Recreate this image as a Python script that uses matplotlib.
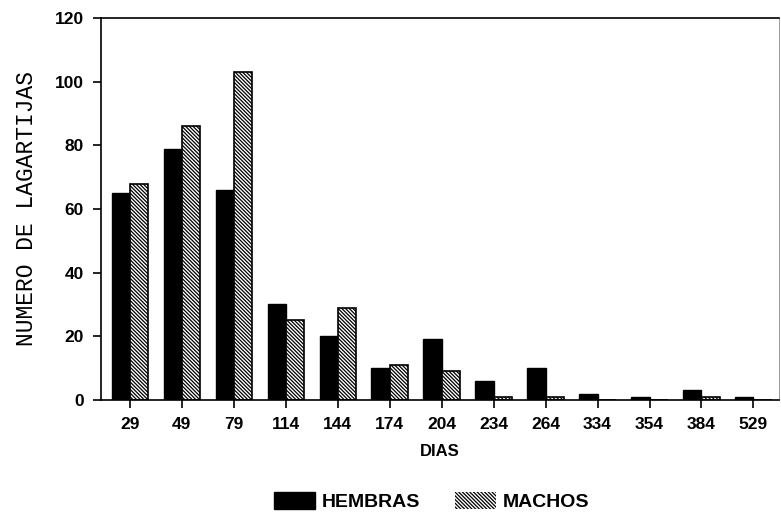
import matplotlib
matplotlib.use("Agg")
import matplotlib.pyplot as plt
import numpy as np
from matplotlib.patches import Patch

categories = ["29", "49", "79", "114", "144", "174", "204", "234", "264", "334", "354", "384", "529"]
hembras = [65, 79, 66, 30, 20, 10, 19, 6, 10, 2, 1, 3, 1]
machos = [68, 86, 103, 25, 29, 11, 9, 1, 1, 0, 0, 1, 0]

plt.rcParams['hatch.linewidth'] = 0.9
HATCH = "\\" * 9

fig = plt.figure(figsize=(7.81, 5.16), dpi=100)
ax = fig.add_axes([0.129, 0.225, 0.869, 0.740])

x = np.arange(len(categories))
w = 0.35
ax.bar(x - w / 2, hembras, w, color="black", edgecolor="black", linewidth=1, label="HEMBRAS")
ax.bar(x + w / 2, machos, w, color="white", edgecolor="black", linewidth=1.2, hatch=HATCH, label="MACHOS")

ax.set_xlim(-0.56, 12.5)
ax.set_ylim(0, 120)
ax.set_yticks(range(0, 121, 20))
ax.set_xticks(x)
ax.set_xticklabels(categories)
for lab in ax.get_xticklabels() + ax.get_yticklabels():
    lab.set_fontfamily("Liberation Sans")
    lab.set_fontweight("bold")
    lab.set_fontsize(12.5)
ax.tick_params(axis="both", direction="out", length=6, width=1.2, pad=6)
for s in ax.spines.values():
    s.set_linewidth(1.2)
ax.spines["right"].set_linewidth(0.6)
ax.spines["right"].set_color("#888888")

ax.set_xlabel("DIAS", fontfamily="Liberation Sans", fontweight="bold", fontsize=12, labelpad=9)
ax.set_ylabel("NUMERO DE LAGARTIJAS", fontfamily="Liberation Mono", fontweight="normal",
              fontsize=16.5, labelpad=12)

handles = [Patch(facecolor="black", edgecolor="black"),
           Patch(facecolor="white", edgecolor="black", hatch=HATCH, linewidth=0)]
fig.legend(handles, ["HEMBRAS", "MACHOS"], loc="center", bbox_to_anchor=(0.553, 0.028),
           ncol=2, frameon=False, handlelength=2.1, handleheight=1.0, columnspacing=1.8,
           handletextpad=0.35, prop={"family": "Liberation Sans", "weight": "bold", "size": 14})

fig.savefig("out.png", dpi=100)
